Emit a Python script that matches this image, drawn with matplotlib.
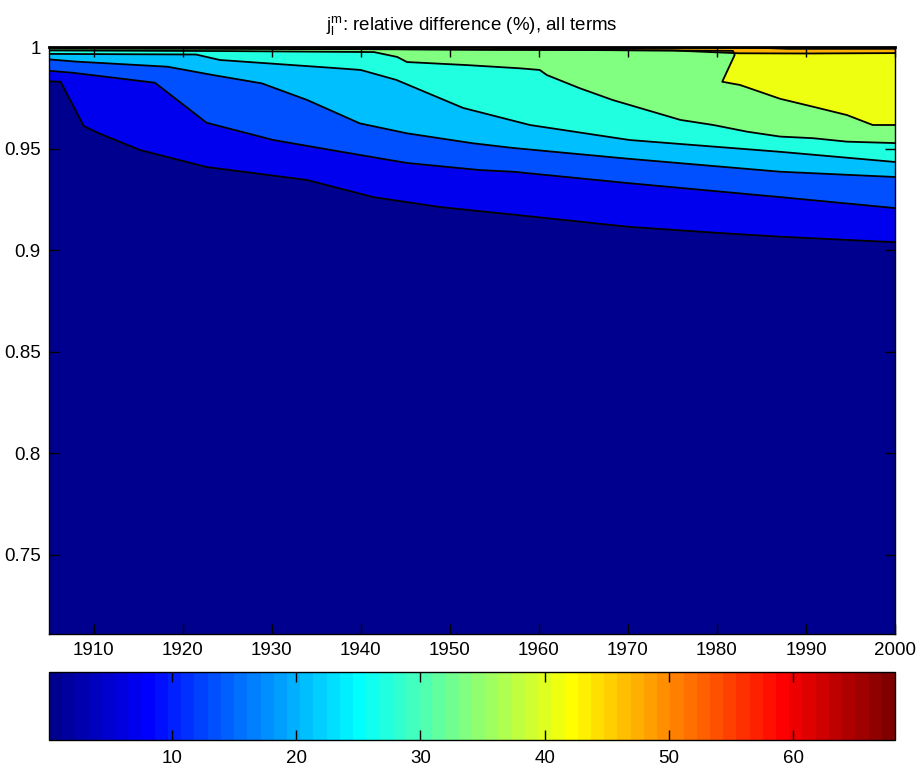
import numpy as np
import matplotlib
matplotlib.use("Agg")
import matplotlib.pyplot as plt
from matplotlib.colors import ListedColormap, Normalize
from matplotlib.cm import ScalarMappable

plt.rcParams["font.family"] = ["Liberation Sans", "DejaVu Sans"]
plt.rcParams["mathtext.fontset"] = "custom"
plt.rcParams["mathtext.rm"] = "Liberation Sans"
plt.rcParams["mathtext.it"] = "Liberation Sans"

# colour range of the field (%), and the contour levels (lower bound of each band)
ZMIN, ZMAX = 0.1, 68.2
LEVELS = [6.9, 13.7, 20.5, 27.3, 34.15, 40.96, 47.8, 54.6]

# contour lines: year -> latitude-like coordinate
A_YEARS = [1905, 1906.3, 1908.9, 1910.5, 1915.2, 1922.7, 1934.0, 1941.4, 1948.9, 1957.1, 1970, 1980, 1987.1, 2000]
A_Y = [0.9831, 0.9829, 0.9611, 0.9577, 0.9493, 0.9409, 0.9345, 0.9261, 0.9212, 0.9175, 0.9115, 0.9085, 0.9066, 0.9039]

B_YEARS = [1905, 1907.7, 1916.9, 1922.7, 1925.0, 1930.2, 1937.7, 1945.2, 1953.4, 1957.1, 1970, 1987.1, 2000]
B_Y = [0.9883, 0.9873, 0.9824, 0.9627, 0.9601, 0.9542, 0.9485, 0.9429, 0.9394, 0.9386, 0.9330, 0.9261, 0.9207]

C_YEARS = [1905, 1908.1, 1918.3, 1923.4, 1928.9, 1934.0, 1939.9, 1945.2, 1952.6, 1957.1, 1970, 1987.1, 2000]
C_Y = [0.9939, 0.9928, 0.9903, 0.9862, 0.9821, 0.9739, 0.9624, 0.9575, 0.9526, 0.9503, 0.9450, 0.9386, 0.9360]

D_YEARS = [1905, 1921.5, 1924.2, 1936.9, 1940.0, 1944.0, 1951.5, 1959.0, 1970.2, 1987.1, 2000]
D_Y = [0.9966, 0.9963, 0.9936, 0.9897, 0.9887, 0.9838, 0.9700, 0.9616, 0.9542, 0.9484, 0.9434]

E_YEARS = [1905, 1925, 1941.5, 1944.1, 1945.2, 1951.9, 1957.9, 1960.1, 1960.9, 1964.6, 1968.3,
           1972.1, 1975.9, 1979.6, 1983.4, 1987.1, 1990.8, 1994.6, 2000]
E_Y = [0.9983, 0.9980, 0.9975, 0.9951, 0.9926, 0.9911, 0.9895, 0.9887, 0.9862, 0.9797, 0.9739,
       0.9690, 0.9641, 0.9616, 0.9583, 0.9559, 0.9551, 0.9534, 0.9527]

F_YEARS = [1905, 1920, 1940, 1960, 1981.8, 1982.0, 1980.6, 1982.6, 1987.1, 1990.8, 1994.6, 1997.5, 2000]
F_Y = [0.9992, 0.9991, 0.9989, 0.9987, 0.9981, 0.9961, 0.9829, 0.9813, 0.9745, 0.9706, 0.9665, 0.9616, 0.9616]

G_YEARS = [1935, 1945, 1955, 1965, 1975, 1982.5, 1990, 2000]
G_Y = [0.9997, 0.9989, 0.9986, 0.9985, 0.9983, 0.9969, 0.9968, 0.9970]

H_YEARS = [1955, 1960, 1963, 1968, 1972, 1985, 1988, 2000]
H_Y = [0.9996, 0.9994, 0.9990, 0.9990, 0.9996, 0.9996, 0.9991, 0.9991]

XTICKS = [1910, 1920, 1930, 1940, 1950, 1960, 1970, 1980, 1990, 2000]
YTICKS = [0.75, 0.8, 0.85, 0.9, 0.95, 1.0]
YTICKLABELS = ["0.75", "0.8", "0.85", "0.9", "0.95", "1"]
CB_TICKS = [10, 20, 30, 40, 50, 60]


def matlab_jet(m=64):
    # same construction as MATLAB's jet(m)
    n = int(np.ceil(m / 4))
    u = np.r_[np.arange(1, n + 1) / n, np.ones(n - 1), np.arange(n, 0, -1) / n]
    g = int(np.ceil(n / 2)) - (m % 4 == 1) + np.arange(1, len(u) + 1)
    J = np.zeros((m, 3))
    for col, idx in ((0, g + n), (1, g), (2, g - n)):
        ok = (idx >= 1) & (idx <= m)
        J[idx[ok] - 1, col] = u[ok]
    return ListedColormap(J)


cmap = matlab_jet(64)
norm = Normalize(ZMIN, ZMAX)
lines = [(A_YEARS, A_Y), (B_YEARS, B_Y), (C_YEARS, C_Y), (D_YEARS, D_Y),
         (E_YEARS, E_Y), (F_YEARS, F_Y), (G_YEARS, G_Y), (H_YEARS, H_Y)]

fig = plt.figure(figsize=(9.21, 7.65), dpi=100, facecolor="white")
ax = fig.add_axes([49 / 921, 1 - 634 / 765, 846 / 921, 587 / 765])
ax.set_facecolor(cmap(norm(ZMIN)))

# each band is painted from its lower contour line up to the top edge
for (xs, ys), lev in zip(lines, LEVELS):
    xs, ys = np.asarray(xs, float), np.asarray(ys, float)
    ax.fill(np.r_[xs, xs[-1], xs[0]], np.r_[ys, 1.0, 1.0],
            color=cmap(norm(lev)), lw=0, zorder=1)
for xs, ys in lines:
    ax.plot(xs, ys, color="black", lw=1.3, zorder=2)

ax.set_xlim(1905, 2000)
ax.set_ylim(0.711, 1.0)
ax.set_xticks(XTICKS)
ax.set_yticks(YTICKS)
ax.set_yticklabels(YTICKLABELS)
ax.tick_params(direction="in", top=True, right=True, length=7, width=1,
               labelsize=13.5, pad=6)
for s in ax.spines.values():
    s.set_linewidth(1.0)
    s.set_zorder(5)
ax.spines["top"].set_linewidth(2.0)

ax.set_title(r"$\mathrm{j_l^m}$: relative difference (%), all terms",
             fontsize=13.5, pad=12)

cax = fig.add_axes([49 / 921, 1 - 740 / 765, 846 / 921, 68 / 765])
cb = fig.colorbar(ScalarMappable(norm=norm, cmap=cmap), cax=cax,
                  orientation="horizontal")
cb.set_ticks(CB_TICKS)
cb.outline.set_linewidth(1.0)
cax.tick_params(direction="in", top=True, bottom=True, length=7, width=1,
                labelsize=13.5, pad=7)

fig.savefig("out.png", dpi=100, facecolor="white")
